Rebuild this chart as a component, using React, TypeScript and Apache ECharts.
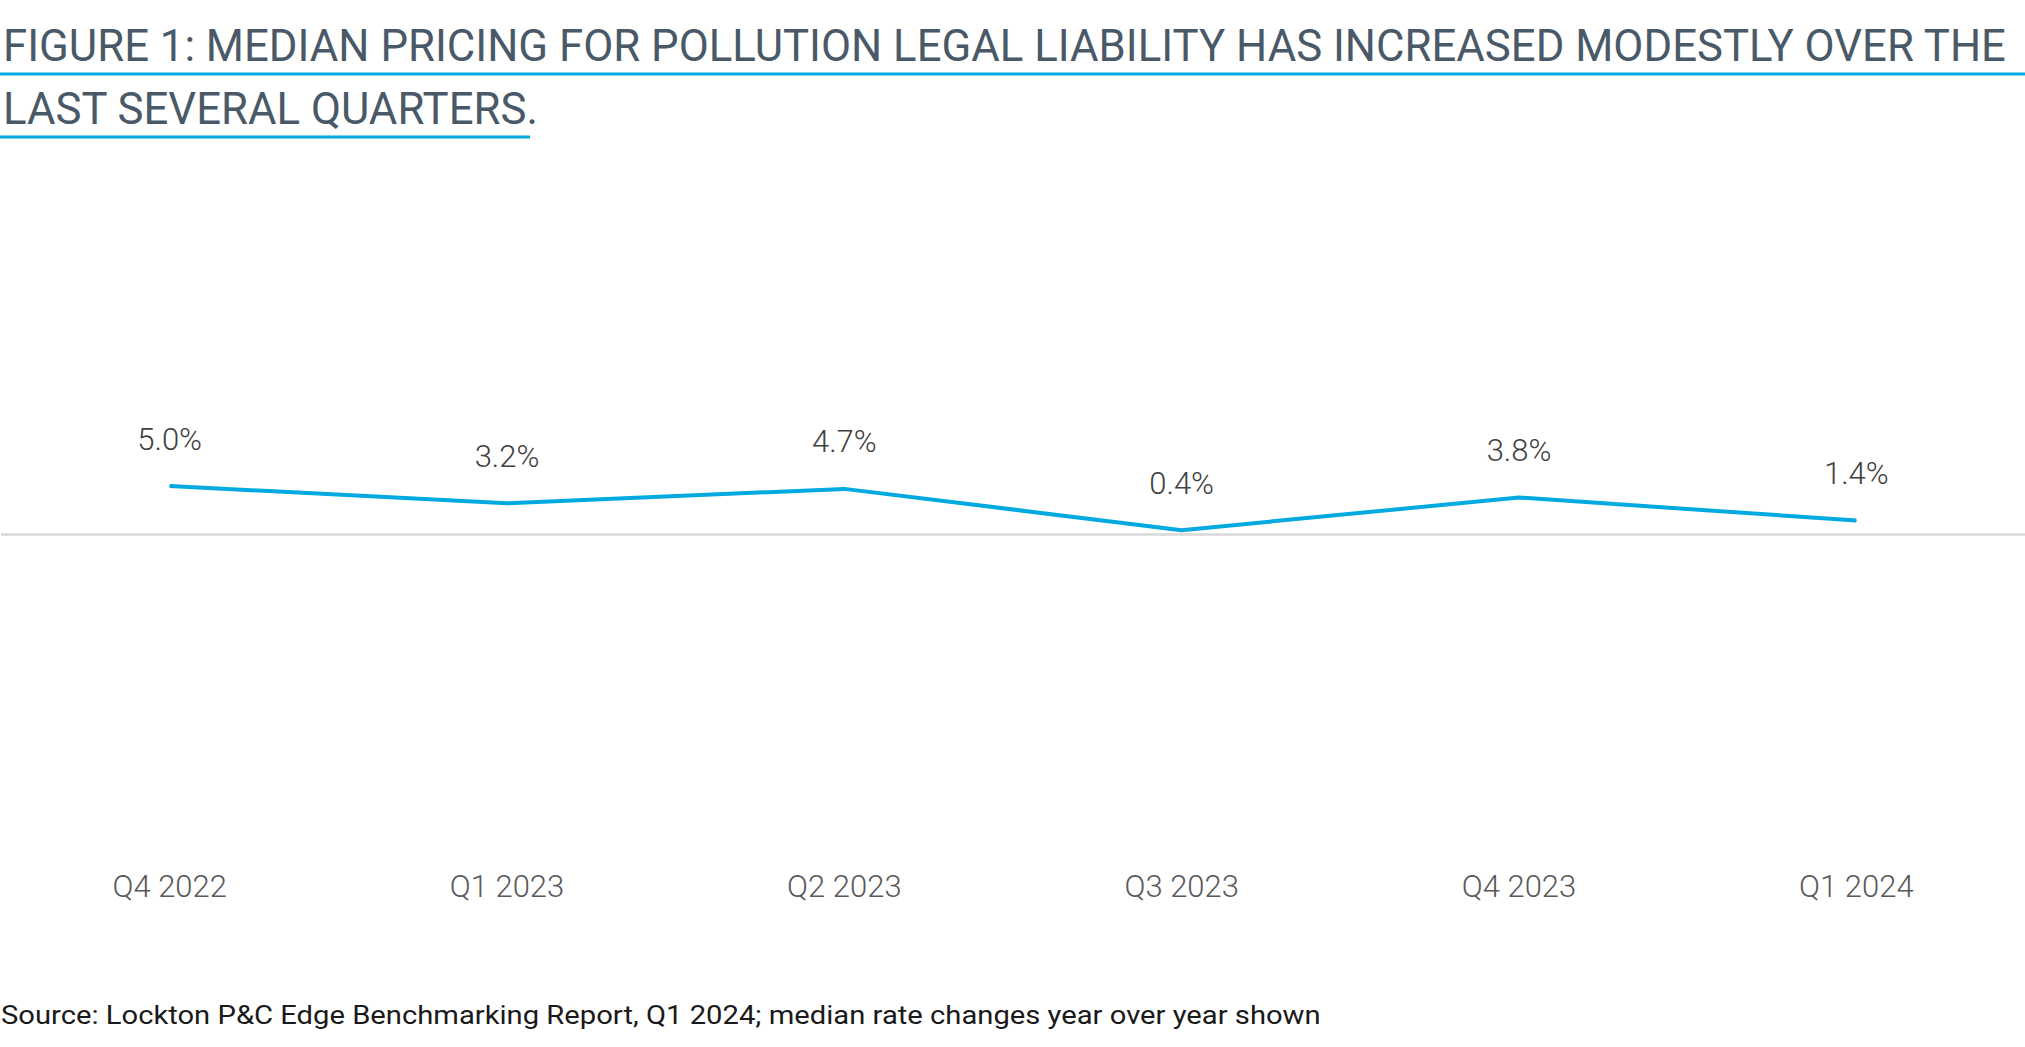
import React, { useEffect, useRef } from "react";
import * as echarts from "echarts";

const categories = ["Q4 2022", "Q1 2023", "Q2 2023", "Q3 2023", "Q4 2023", "Q1 2024"];
const values = [5.0, 3.2, 4.7, 0.4, 3.8, 1.4];
const titleLines = [
  "FIGURE 1: MEDIAN PRICING FOR POLLUTION LEGAL LIABILITY HAS INCREASED MODESTLY OVER THE",
  "LAST SEVERAL QUARTERS.",
];
const sourceText =
  "Source: Lockton P&C Edge Benchmarking Report, Q1 2024; median rate changes year over year shown";

const W = 2025;
const H = 1047;

function measure(text: string, font: string): number {
  const c = document.createElement("canvas");
  const ctx = c.getContext("2d");
  if (!ctx) return text.length * 10;
  ctx.font = font;
  return ctx.measureText(text).width;
}

export default function App() {
  const ref = useRef<HTMLDivElement>(null);

  useEffect(() => {
    document.body.style.margin = "0";
    if (!ref.current) return;
    const chart = echarts.init(ref.current, null, { renderer: "svg", width: W, height: H });

    const titleFont = "Roboto";
    const titleSize = 45;
    const titleWeight = 400;
    const titleW = measure(titleLines[0], `${titleWeight} ${titleSize}px ${titleFont}`);
    const titleScale = 2005 / titleW;

    const srcSize = 25;
    const srcW = measure(sourceText, `400 ${srcSize}px Roboto`);
    const srcScale = 1320 / srcW;

    chart.setOption({
      animation: false,
      backgroundColor: "#ffffff",
      grid: { left: 1, right: 0, top: 342, bottom: 225, containLabel: false },
      xAxis: {
        type: "category",
        data: categories,
        boundaryGap: true,
        axisLine: { show: false, onZero: false },
        axisTick: { show: false },
        splitLine: { show: false },
        axisLabel: {
          margin: 49,
          fontSize: 31,
          fontFamily: "Roboto",
          fontWeight: 300,
          color: "#595959",
        },
      },
      yAxis: {
        type: "value",
        min: -30,
        max: 20,
        show: false,
        splitLine: { show: false },
      },
      series: [
        {
          type: "line",
          data: values,
          symbol: "circle",
          symbolSize: 1,
          showSymbol: true,
          itemStyle: { color: "#00a9e0" },
          lineStyle: { color: "#00a9e0", width: 4 },
          label: {
            show: true,
            position: "top",
            distance: 31,
            fontSize: 31,
            fontFamily: "Roboto",
            fontWeight: 300,
            color: "#404040",
            formatter: (p: any) => Number(p.value).toFixed(1) + "%",
          },
          markLine: {
            silent: true,
            symbol: ["none", "none"],
            label: { show: false },
            lineStyle: { color: "#d9d9d9", width: 2.5, type: "solid" },
            data: [{ yAxis: 0 }],
            z: 1,
          },
          z: 3,
        },
      ],
      graphic: [
        {
          type: "text",
          x: 3,
          y: 46,
          scaleX: titleScale,
          style: {
            text: titleLines[0],
            fontSize: titleSize,
            fontFamily: titleFont,
            fontWeight: titleWeight,
            fill: "#4a5968",
            align: "left",
            verticalAlign: "middle",
          },
        },
        {
          type: "text",
          x: 3,
          y: 109,
          scaleX: titleScale,
          style: {
            text: titleLines[1],
            fontSize: titleSize,
            fontFamily: titleFont,
            fontWeight: titleWeight,
            fill: "#4a5968",
            align: "left",
            verticalAlign: "middle",
          },
        },
        {
          type: "line",
          shape: { x1: 0, y1: 74, x2: W, y2: 74 },
          style: { stroke: "#00a9e0", lineWidth: 3 },
        },
        {
          type: "line",
          shape: { x1: 0, y1: 137, x2: 530, y2: 137 },
          style: { stroke: "#00a9e0", lineWidth: 3 },
        },
        {
          type: "text",
          x: 1,
          y: 1016,
          scaleX: srcScale,
          style: {
            text: sourceText,
            fontSize: srcSize,
            fontFamily: "Roboto",
            fill: "#1a1a1a",
            align: "left",
            verticalAlign: "middle",
          },
        },
      ],
    });

    return () => {
      chart.dispose();
    };
  }, []);

  return <div ref={ref} style={{ width: W, height: H }} />;
}
